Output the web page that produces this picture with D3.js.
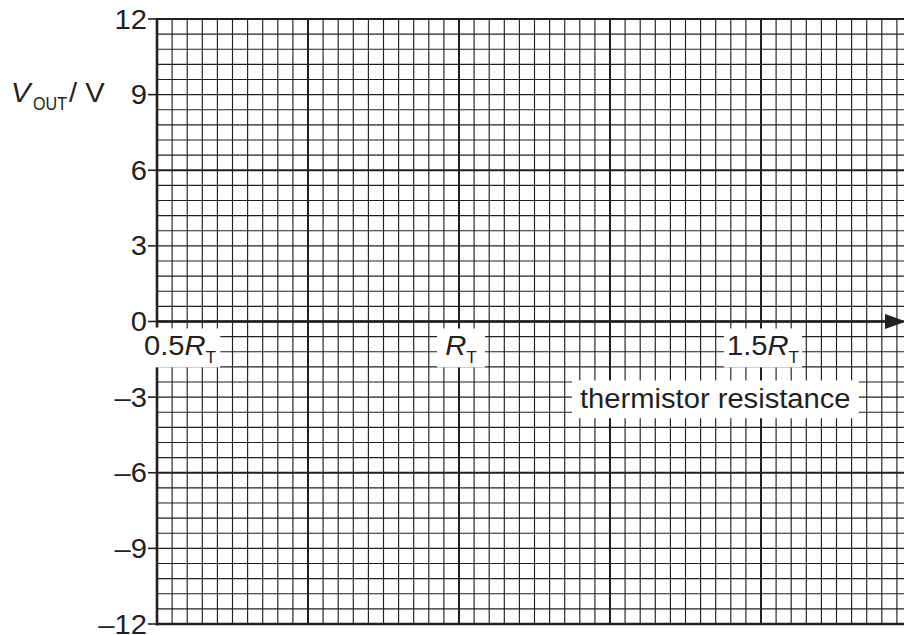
<!DOCTYPE html>
<html>
<head>
<meta charset="utf-8">
<script src="https://cdn.jsdelivr.net/npm/d3@7"></script>
<style>
  html, body { margin: 0; padding: 0; background: #fff; }
  svg { display: block; }
  text { font-family: "Liberation Sans", Arial, Helvetica, sans-serif; fill: #231f20; }
</style>
</head>
<body>
<svg id="chart" width="904" height="635"></svg>
<script>
// ---- data ----
const yTicks = [12, 9, 6, 3, 0, -3, -6, -9, -12];
const yTickLabels = ["12", "9", "6", "3", "0", "–3", "–6", "–9", "–12"];
const xTicks = [0.5, 1.0, 1.5];
const xTickCoeffs = ["0.5", "", "1.5"];
const xSymbol = "R";
const xSubscript = "T";
const xAxisTitle = "thermistor resistance";
const yTitleMain = "V";
const yTitleSub = "OUT";
const yTitleUnit = "/ V";
const xDomainMax = 1.725;   // last grid line
const xMinorStep = 0.025;   // R_T per small square
const yMinorStep = 0.6;     // V per small square

// ---- scales ----
const x = d3.scaleLinear().domain([0.5, 1.5]).range([157, 761]);
const y = d3.scaleLinear().domain([-12, 12]).range([624, 19]);
const SX = 1.08; // horizontal stretch of the lettering
const FS = 27;
const ink = "#231f20";

const svg = d3.select("#chart");
const W = 904;

const xs = d3.range(0, Math.round((xDomainMax - 0.5) / xMinorStep) + 1).map(k => ({k, v: 0.5 + k * xMinorStep}));
const ys = d3.range(0, Math.round(24 / yMinorStep) + 1).map(j => ({j, v: -12 + j * yMinorStep}));

// layers
const gH = svg.append("g");
const gHMask = svg.append("g");
const gV = svg.append("g");
const gBox = svg.append("g");
const gAxes = svg.append("g");
const gText = svg.append("g");

// horizontal grid lines
gH.selectAll("line").data(ys).join("line")
  .attr("x1", x(0.5)).attr("x2", W)
  .attr("y1", d => y(d.v)).attr("y2", d => y(d.v))
  .attr("stroke", ink)
  .attr("stroke-width", d => (d.j % 10 === 0 ? 2 : 1.15));

// vertical grid lines
gV.selectAll("line").data(xs).join("line")
  .attr("x1", d => x(d.v)).attr("x2", d => x(d.v))
  .attr("y1", y(12)).attr("y2", y(-12))
  .attr("stroke", ink)
  .attr("stroke-width", d => (d.k % 10 === 0 ? 2 : 1.15));

// text helper: parts = [{t, size, italic, dy}]
function label(g, px, py, parts, anchor) {
  const t = g.append("text")
    .attr("transform", `translate(${px},${py}) scale(${SX},1)`)
    .attr("text-anchor", anchor || "start");
  let shift = 0;
  parts.forEach(p => {
    const dy = (p.dy || 0) - shift;
    shift = p.dy || 0;
    t.append("tspan")
      .attr("dy", dy)
      .attr("font-size", p.size)
      .attr("font-style", p.italic ? "italic" : "normal")
      .text(p.t);
  });
  return t;
}

// x tick labels
const xLabelNodes = xTicks.map((v, i) => {
  const parts = [];
  if (xTickCoeffs[i]) parts.push({t: xTickCoeffs[i], size: FS});
  parts.push({t: xSymbol, size: FS, italic: true});
  parts.push({t: xSubscript, size: 16, dy: 8});
  const anchor = i === 0 ? "start" : "middle";
  const px = i === 0 ? x(v) - 13 : x(v) + 2;
  return label(gText, px, y(0) + 33, parts, anchor);
});
const titleNode = label(gText, 580, y(0) + 86, [{t: xAxisTitle, size: FS}], "start");

// white boxes behind labels
function addBoxes(node, padX, padTop, padBot, hExtra) {
  const b = node.node().getBoundingClientRect();
  const r = {x: b.left - padX, y: b.top - padTop, w: b.width + 2 * padX, h: b.height + padTop + padBot};
  gHMask.append("rect").attr("x", r.x).attr("y", r.y - hExtra[0]).attr("width", r.w)
    .attr("height", r.h + hExtra[0] + hExtra[1]).attr("fill", "#fff");
  gBox.append("rect").attr("x", r.x).attr("y", r.y).attr("width", r.w).attr("height", r.h).attr("fill", "#fff");
}
addBoxes(xLabelNodes[0], 4, 2, 1, [0, 0]);
addBoxes(xLabelNodes[1], 8, 2, 1, [0, 0]);
addBoxes(xLabelNodes[2], 3, 2, 1, [0, 0]);
addBoxes(titleNode, 8, 3, 5, [10, 4]);

// axes
gAxes.append("line").attr("x1", x(0.5)).attr("x2", x(0.5)).attr("y1", y(12) - 1).attr("y2", y(-12) + 1.5)
  .attr("stroke", ink).attr("stroke-width", 2.6);
// re-hide left axis behind first label box
{
  const b = xLabelNodes[0].node().getBoundingClientRect();
  gAxes.append("rect").attr("x", x(0.5) - 3).attr("y", y(0) + 6).attr("width", 6)
    .attr("height", b.bottom + 1 - (y(0) + 6)).attr("fill", "#fff");
}
gAxes.append("line").attr("x1", x(0.5)).attr("x2", 886).attr("y1", y(0)).attr("y2", y(0))
  .attr("stroke", ink).attr("stroke-width", 2.6);
gAxes.append("line").attr("x1", x(0.5)).attr("x2", W).attr("y1", y(12)).attr("y2", y(12))
  .attr("stroke", ink).attr("stroke-width", 2.2);
gAxes.append("line").attr("x1", x(0.5)).attr("x2", W).attr("y1", y(-12)).attr("y2", y(-12))
  .attr("stroke", ink).attr("stroke-width", 2.6);
gAxes.append("path")
  .attr("d", `M885,${y(0) - 7.5} L906,${y(0)} L885,${y(0) + 7.5} Z`)
  .attr("fill", ink);

// y ticks and labels
gAxes.selectAll("line.tick").data(yTicks).join("line").attr("class", "tick")
  .attr("x1", 148).attr("x2", x(0.5))
  .attr("y1", d => y(d)).attr("y2", d => y(d))
  .attr("stroke", ink).attr("stroke-width", 1.6);
yTicks.forEach((v, i) => {
  label(gText, 147, y(v) + 9.5, [{t: yTickLabels[i], size: FS}], "end");
});

// y title
label(gText, 11, 102, [{t: yTitleMain, size: FS, italic: true}]);
gText.append("text").attr("x", 33).attr("y", 110).attr("font-size", 18.5)
  .attr("textLength", 34).attr("lengthAdjust", "spacingAndGlyphs").text(yTitleSub);
label(gText, 69, 102, [{t: yTitleUnit, size: FS}]);
</script>
</body>
</html>
